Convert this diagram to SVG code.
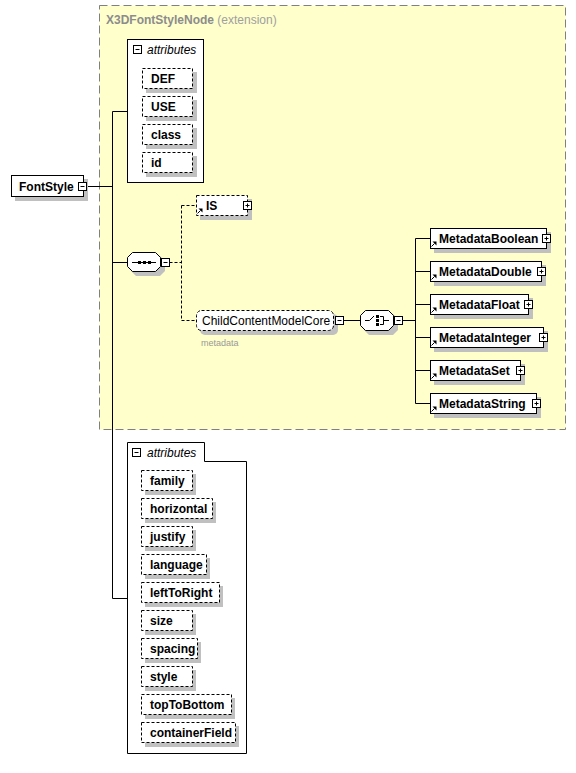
<svg xmlns="http://www.w3.org/2000/svg" width="576" height="773" viewBox="0 0 576 773">
<style>
.bg{fill:#fff}
.box{fill:#fff;stroke:#000;stroke-width:1}
.dbox{fill:#fff;stroke:#000;stroke-width:1;stroke-dasharray:3,2}
.sh{fill:#c0c0c0}
.ln{stroke:#000;stroke-width:1;fill:none}
.dl{stroke:#000;stroke-width:1;fill:none;stroke-dasharray:3,2}
.t{font-family:"Liberation Sans",Arial,sans-serif;font-size:12px;font-weight:bold;fill:#000}
.tn{font-family:"Liberation Sans",Arial,sans-serif;font-size:12px;fill:#000}
.ti{font-family:"Liberation Sans",Arial,sans-serif;font-size:12px;font-style:italic;fill:#000}
.small{font-family:"Liberation Sans",Arial,sans-serif;font-size:9px;fill:#999}
.btn{fill:#fff;stroke:#000;stroke-width:1}
.ic{fill:#000}
</style>
<defs>
<g id="minus"><rect class="btn" x="0.5" y="0.5" width="8" height="8"/><path class="ln" d="M2.5,4.5H6.5"/></g>
<g id="plus"><rect class="btn" x="0.5" y="0.5" width="8" height="8"/><path class="ln" d="M2.5,4.5H6.5M4.5,2.5V6.5"/></g>
<g id="ref"><path class="ln" d="M0.5,5.5L3.5,2.5"/><path class="ic" d="M1.5,0.5H5.5V4.5Z"/></g>
</defs>
<rect width="576" height="773" fill="#fff"/>

<g id="X3DFontStyleNode">
<rect x="99.5" y="5.5" width="466" height="424" fill="#ffffcc" stroke="#808080" stroke-dasharray="8,4"/>
<text x="106" y="24" font-family="Liberation Sans,Arial,sans-serif" font-size="12" font-weight="bold" fill="#8c8c8c">X3DFontStyleNode<tspan font-weight="normal" fill="#a0a0a0"> (extension)</tspan></text>
</g>

<g id="connectors">
<path class="ln" d="M86.5,186.5H112.5M112.5,111.5V598.5M112.5,111.5H127.5M112.5,598.5H127.5M112.5,262.5H127.5"/>
<path class="dl" d="M169.5,262.5H181.5M181.5,205.5V320.5M181.5,205.5H196.5M181.5,320.5H196.5"/>
<path class="ln" d="M343.5,320.5H360.5M402.5,320.5H415.5M415.5,238.5V403.5M415.5,238.5H430.5M415.5,271.5H430.5M415.5,304.5H430.5M415.5,337.5H430.5M415.5,370.5H430.5M415.5,403.5H430.5"/>
</g>

<g id="FontStyle">
<rect class="sh" x="15" y="179" width="73" height="22"/>
<rect class="box" x="11.5" y="175.5" width="72" height="21"/>
<text class="t" x="19" y="190.5">FontStyle</text>
<use href="#minus" x="78" y="182"/>
</g>

<g id="attributes1">
<rect class="box" x="127.5" y="39.5" width="76" height="143"/>
<use href="#minus" x="133" y="45"/>
<text class="ti" x="147" y="54">attributes</text>
<g id="attr-DEF"><rect class="sh" x="146" y="72" width="51" height="21"/><rect class="dbox" x="142.5" y="68.5" width="50" height="20"/><text class="t" x="151" y="82.5">DEF</text></g>
<g id="attr-USE"><rect class="sh" x="146" y="100" width="51" height="21"/><rect class="dbox" x="142.5" y="96.5" width="50" height="20"/><text class="t" x="151" y="110.5">USE</text></g>
<g id="attr-class"><rect class="sh" x="146" y="128" width="51" height="21"/><rect class="dbox" x="142.5" y="124.5" width="50" height="20"/><text class="t" x="151" y="138.5">class</text></g>
<g id="attr-id"><rect class="sh" x="146" y="156" width="51" height="21"/><rect class="dbox" x="142.5" y="152.5" width="50" height="20"/><text class="t" x="151" y="166.5">id</text></g>
</g>

<g id="sequence">
<path class="sh" d="M136,256H160L165,261V271L160,276H136L131,271V261Z"/>
<path class="box" d="M132.5,252.5H155.5L160.5,257.5V266.5L155.5,271.5H132.5L127.5,266.5V257.5Z"/>
<path class="ln" d="M132,262.5H156"/>
<rect class="ic" x="138" y="261" width="3" height="3"/>
<rect class="ic" x="143" y="261" width="3" height="3"/>
<rect class="ic" x="148" y="261" width="3" height="3"/>
<use href="#minus" x="161" y="258"/>
</g>

<g id="IS">
<rect class="sh" x="200" y="199" width="52" height="21"/>
<rect class="dbox" x="196.5" y="195.5" width="51" height="20"/>
<text class="t" x="206" y="209.5">IS</text>
<use href="#ref" x="197" y="208"/>
<use href="#plus" x="243" y="201"/>
</g>

<g id="ChildContentModelCore">
<rect class="sh" x="200" y="314" width="138" height="21" rx="5"/>
<rect class="dbox" x="196.5" y="310.5" width="137" height="20" rx="5"/>
<text class="tn" x="202" y="325">ChildContentModelCore</text>
<use href="#minus" x="335" y="316"/>
<text class="small" x="201" y="346">metadata</text>
</g>

<g id="choice">
<path class="sh" d="M369,314H393L398,319V330L393,335H369L364,330V319Z"/>
<path class="box" d="M365.5,310.5H388.5L393.5,315.5V325.5L388.5,330.5H365.5L360.5,325.5V315.5Z"/>
<path class="ln" d="M365,320.5H369.5L374,316"/>
<rect class="ic" x="376" y="315" width="3" height="3"/>
<rect class="ic" x="376" y="319" width="3" height="3"/>
<rect class="ic" x="376" y="323" width="3" height="3"/>
<path class="ln" d="M380,316.5H383.5V324.5H380M383.5,320.5H389"/>
<use href="#minus" x="394" y="316"/>
</g>

<g id="MetadataBoolean">
<rect class="sh" x="434" y="232" width="117" height="21"/>
<rect class="box" x="430.5" y="228.5" width="116" height="20"/>
<text class="t" x="439" y="243">MetadataBoolean</text>
<use href="#ref" x="431" y="241"/>
<use href="#plus" x="542" y="234"/>
</g>
<g id="MetadataDouble">
<rect class="sh" x="434" y="265" width="112" height="21"/>
<rect class="box" x="430.5" y="261.5" width="111" height="20"/>
<text class="t" x="439" y="276">MetadataDouble</text>
<use href="#ref" x="431" y="274"/>
<use href="#plus" x="537" y="267"/>
</g>
<g id="MetadataFloat">
<rect class="sh" x="434" y="298" width="99" height="21"/>
<rect class="box" x="430.5" y="294.5" width="98" height="20"/>
<text class="t" x="439" y="309">MetadataFloat</text>
<use href="#ref" x="431" y="307"/>
<use href="#plus" x="524" y="300"/>
</g>
<g id="MetadataInteger">
<rect class="sh" x="434" y="331" width="114" height="21"/>
<rect class="box" x="430.5" y="327.5" width="113" height="20"/>
<text class="t" x="439" y="342">MetadataInteger</text>
<use href="#ref" x="431" y="340"/>
<use href="#plus" x="539" y="333"/>
</g>
<g id="MetadataSet">
<rect class="sh" x="434" y="364" width="91" height="21"/>
<rect class="box" x="430.5" y="360.5" width="90" height="20"/>
<text class="t" x="439" y="375">MetadataSet</text>
<use href="#ref" x="431" y="373"/>
<use href="#plus" x="516" y="366"/>
</g>
<g id="MetadataString">
<rect class="sh" x="434" y="397" width="107" height="21"/>
<rect class="box" x="430.5" y="393.5" width="106" height="20"/>
<text class="t" x="439" y="408">MetadataString</text>
<use href="#ref" x="431" y="406"/>
<use href="#plus" x="532" y="399"/>
</g>

<g id="attributes2">
<path class="box" d="M127.5,442.5H204.5V461.5H246.5V753.5H127.5Z"/>
<use href="#minus" x="132" y="448"/>
<text class="ti" x="147" y="457">attributes</text>
<g id="attr-family"><rect class="sh" x="145" y="474" width="51" height="21"/><rect class="dbox" x="141.5" y="470.5" width="51" height="20"/><text class="t" x="150" y="485">family</text></g>
<g id="attr-horizontal"><rect class="sh" x="145" y="502" width="71" height="21"/><rect class="dbox" x="141.5" y="498.5" width="71" height="20"/><text class="t" x="150" y="513">horizontal</text></g>
<g id="attr-justify"><rect class="sh" x="145" y="530" width="51" height="21"/><rect class="dbox" x="141.5" y="526.5" width="51" height="20"/><text class="t" x="150" y="541">justify</text></g>
<g id="attr-language"><rect class="sh" x="145" y="558" width="65" height="21"/><rect class="dbox" x="141.5" y="554.5" width="65" height="20"/><text class="t" x="150" y="569">language</text></g>
<g id="attr-leftToRight"><rect class="sh" x="145" y="586" width="78" height="21"/><rect class="dbox" x="141.5" y="582.5" width="78" height="20"/><text class="t" x="150" y="597">leftToRight</text></g>
<g id="attr-size"><rect class="sh" x="145" y="614" width="51" height="21"/><rect class="dbox" x="141.5" y="610.5" width="51" height="20"/><text class="t" x="150" y="625">size</text></g>
<g id="attr-spacing"><rect class="sh" x="145" y="642" width="56" height="21"/><rect class="dbox" x="141.5" y="638.5" width="56" height="20"/><text class="t" x="150" y="653">spacing</text></g>
<g id="attr-style"><rect class="sh" x="145" y="670" width="51" height="21"/><rect class="dbox" x="141.5" y="666.5" width="51" height="20"/><text class="t" x="150" y="681">style</text></g>
<g id="attr-topToBottom"><rect class="sh" x="145" y="698" width="90" height="21"/><rect class="dbox" x="141.5" y="694.5" width="90" height="20"/><text class="t" x="150" y="709">topToBottom</text></g>
<g id="attr-containerField"><rect class="sh" x="145" y="726" width="94" height="21"/><rect class="dbox" x="141.5" y="722.5" width="94" height="20"/><text class="t" x="150" y="737">containerField</text></g>
</g>
</svg>
